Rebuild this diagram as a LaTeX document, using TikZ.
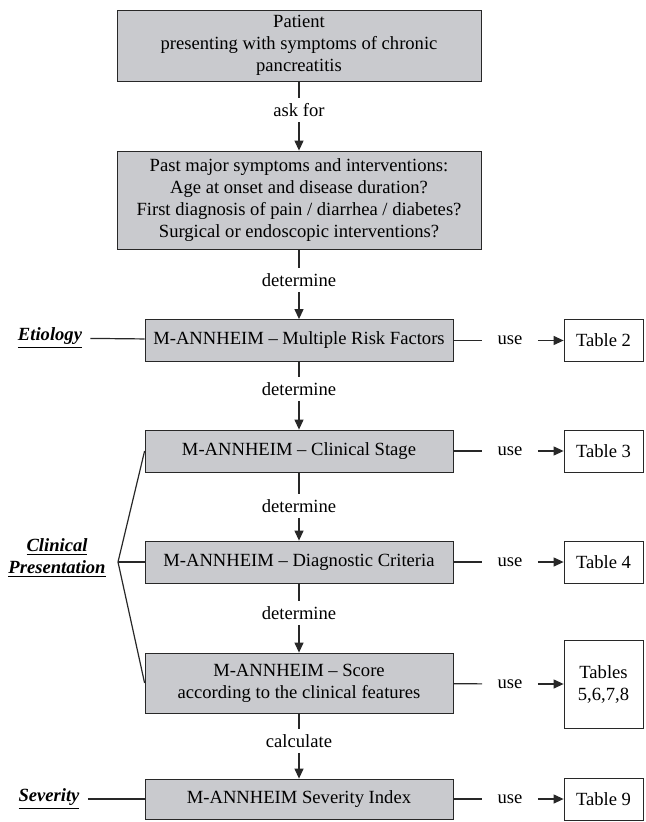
\documentclass[tikz,border=0pt]{standalone}
\usepackage{fontspec}
\setmainfont{Liberation Serif}
\usetikzlibrary{arrows.meta,
                shadows}
\definecolor{boxgray}{RGB}{201,202,206}
\definecolor{linegray}{RGB}{40,40,40}

\begin{document}
\begin{tikzpicture}[x=0.5pt, y=-0.5pt,
    every node/.style = {font=\fontsize{9.3}{11}\selectfont},
    mbox/.style = {draw=linegray, fill=boxgray, align=center, inner sep=0pt,
                   minimum width=154pt, minimum height=21pt,
                   drop shadow={shadow xshift=0.5pt, shadow yshift=-0.5pt, fill=black!80, opacity=1}},
    tbl/.style = {draw=linegray, fill=white, align=center, inner sep=0pt, minimum width=39.5pt, minimum height=21pt},
    verbnode/.style = {inner xsep=1pt, inner ysep=2.5pt},
    usenode/.style = {inner xsep=7.5pt},
    lbl/.style = {font=\fontsize{9.3}{11}\selectfont\bfseries\itshape, align=center, inner xsep=4pt},
    plain/.style = {draw=linegray, line width=0.6pt},
    arrowline/.style = {plain, -{Triangle[length=5pt, width=4.5pt]}}]

    \useasboundingbox (0,0) rectangle (645,822);

    % main column
    \node[mbox, minimum width=182pt, minimum height=35.5pt] (patient) at (299,45.5)
        {Patient\\presenting with symptoms of chronic\\pancreatitis};
    \node[verbnode] (ask) at (299,110) {ask for};
    \node[mbox, minimum width=182pt, minimum height=49pt] (past) at (299,200)
        {Past major symptoms and interventions:\\Age at onset and disease duration?\\First diagnosis of pain / diarrhea / diabetes?\\Surgical or endoscopic interventions?};
    \node[verbnode] (det1) at (299,280) {determine};
    \node[mbox] (risk) at (299,340.5) {M-ANNHEIM -- Multiple Risk Factors};
    \node[verbnode] (det2) at (299,389) {determine};
    \node[mbox] (stage) at (299,451) {M-ANNHEIM -- Clinical Stage};
    \node[verbnode] (det3) at (299,506) {determine};
    \node[mbox] (crit) at (299,562) {M-ANNHEIM -- Diagnostic Criteria};
    \node[verbnode] (det4) at (299,613) {determine};
    \node[mbox, minimum height=30pt] (score) at (299,683)
        {M-ANNHEIM -- Score\\according to the clinical features};
    \node[verbnode] (calc) at (299,741) {calculate};
    \node[mbox, minimum height=20pt] (sev) at (299,799) {M-ANNHEIM Severity Index};

    \foreach \a/\v/\b in {patient/ask/past, past/det1/risk, risk/det2/stage,
                          stage/det3/crit, crit/det4/score, score/calc/sev} {
        \draw[plain] (\a) -- (\v);
        \draw[arrowline] (\v) -- (\b);
    }

    % tables
    \foreach \n/\t/\y in {risk/2/340.5, stage/3/451, crit/4/562, sev/9/799} {
        \node[usenode] (use\n) at (510,\y) {use};
        \node[tbl] (tab\n) at (603.5,\y) {Table \t};
        \draw[plain] (\n) -- (use\n);
        \draw[arrowline] (use\n) -- (tab\n);
    }
    \node[usenode] (usescore) at (510,684) {use};
    \node[tbl, minimum height=44pt] (tabscore) at (603.5,684) {Tables\\5,6,7,8};
    \draw[plain] (score) -- (usescore);
    \draw[arrowline] (usescore) -- (tabscore);

    % side labels
    \node[lbl] (etio) at (50,338) {\underline{Etiology}};
    \node[lbl] (clin) at (57,558) {\underline{Clinical}\\\underline{Presentation}};
    \node[lbl] (sevlbl) at (49,799) {\underline{Severity}};
    \coordinate (cj) at (118,562);
    \draw[plain] (etio) -- (risk);
    \draw[plain] (sevlbl) -- (sev);
    \draw[plain] (stage.west) -- (cj) -- (score.west);
    \draw[plain] (cj) -- (crit);
\end{tikzpicture}
\end{document}
